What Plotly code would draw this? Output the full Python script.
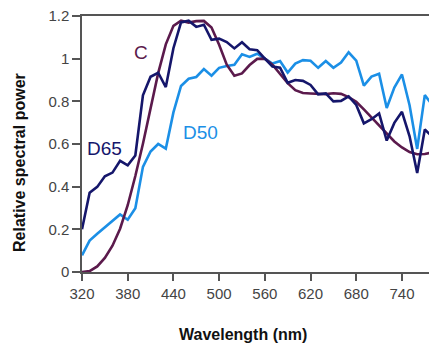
import plotly.graph_objects as go

wavelength = [320, 330, 340, 350, 360, 370, 380, 390, 400, 410, 420, 430, 440, 450, 460,
              470, 480, 490, 500, 510, 520, 530, 540, 550, 560, 570, 580, 590, 600, 610,
              620, 630, 640, 650, 660, 670, 680, 690, 700, 710, 720, 730, 740, 750, 760,
              770, 780]

d65 = [0.200, 0.371, 0.399, 0.449, 0.466, 0.521, 0.500, 0.546, 0.828, 0.915, 0.934, 0.867,
       1.049, 1.170, 1.178, 1.149, 1.159, 1.088, 1.094, 1.078, 1.048, 1.077, 1.044, 1.040,
       1.000, 0.963, 0.958, 0.887, 0.900, 0.896, 0.877, 0.833, 0.837, 0.800, 0.802, 0.823,
       0.783, 0.697, 0.716, 0.743, 0.616, 0.699, 0.751, 0.636, 0.464, 0.668, 0.634]

d50 = [0.078, 0.147, 0.179, 0.210, 0.239, 0.270, 0.245, 0.299, 0.493, 0.565, 0.600, 0.578,
       0.748, 0.872, 0.906, 0.914, 0.951, 0.920, 0.957, 0.966, 0.971, 1.021, 1.008, 1.023,
       1.000, 0.977, 0.989, 0.935, 0.977, 0.993, 0.990, 0.957, 0.989, 0.957, 0.982, 1.030,
       0.991, 0.874, 0.916, 0.929, 0.769, 0.865, 0.926, 0.782, 0.577, 0.829, 0.783]

illum_c = [0.000, 0.004, 0.026, 0.066, 0.123, 0.203, 0.313, 0.450, 0.601, 0.765, 0.932,
           1.067, 1.154, 1.178, 1.169, 1.176, 1.177, 1.146, 1.065, 0.972, 0.920, 0.931,
           0.970, 0.999, 1.000, 0.972, 0.929, 0.885, 0.852, 0.839, 0.837, 0.836, 0.834,
           0.838, 0.835, 0.820, 0.798, 0.762, 0.725, 0.688, 0.649, 0.612, 0.584, 0.562,
           0.552, 0.553, 0.561]

x_ticks = [320, 380, 440, 500, 560, 620, 680, 740]
y_ticks = [0, 0.2, 0.4, 0.6, 0.8, 1, 1.2]
y_tick_text = ["0", "0.2", "0.4", "0.6", "0.8", "1", "1.2"]

labels = [("C", 398, 1.027, "#5b1a4c"), ("D65", 349.5, 0.581, "#15166b"),
          ("D50", 475, 0.656, "#1b8fe6")]

fig = go.Figure()
fig.add_trace(go.Scatter(x=wavelength, y=d50, mode="lines",
                         line=dict(color="#1b8fe6", width=2.6), name="D50"))
fig.add_trace(go.Scatter(x=wavelength, y=illum_c, mode="lines",
                         line=dict(color="#5b1a4c", width=2.6), name="C"))
fig.add_trace(go.Scatter(x=wavelength, y=d65, mode="lines",
                         line=dict(color="#15166b", width=2.6), name="D65"))

for text, lx, ly, col in labels:
    fig.add_annotation(x=lx, y=ly, text=text, showarrow=False,
                       font=dict(family="Liberation Sans, Arial", size=19, color=col),
                       xanchor="center", yanchor="middle")

fig.add_annotation(xref="paper", yref="paper", x=0.465, y=-0.244, text="<b>Wavelength (nm)</b>",
                   showarrow=False, xanchor="center", yanchor="middle",
                   font=dict(family="Liberation Sans, Arial", size=16, color="#111111"))
fig.add_annotation(xref="paper", yref="paper", x=-0.18, y=0.428,
                   text="<b>Relative spectral power</b>", textangle=-90,
                   showarrow=False, xanchor="center", yanchor="middle",
                   font=dict(family="Liberation Sans, Arial", size=16, color="#111111"))

fig.update_layout(
    width=429, height=350,
    margin=dict(l=82, r=0, t=16, b=78),
    paper_bgcolor="white", plot_bgcolor="white",
    showlegend=False,
    font=dict(family="Liberation Sans, Arial", size=15, color="#444444"),
)
fig.update_xaxes(range=[320, 775.5], tickvals=x_ticks, ticks="outside", ticklen=7,
                 tickwidth=1.5, tickcolor="#555555",
                 showline=True, linecolor="#555555", linewidth=1.5, mirror=True,
                 showgrid=False, zeroline=False, tickfont=dict(size=15, color="#444444"))
fig.update_yaxes(range=[0, 1.2], tickvals=y_ticks, ticktext=y_tick_text, ticks="outside",
                 ticklen=8, tickwidth=1.5, tickcolor="#555555",
                 showline=True, linecolor="#555555", linewidth=1.5,
                 showgrid=False, zeroline=False, tickfont=dict(size=15, color="#444444"))

fig.write_html("out.html")
